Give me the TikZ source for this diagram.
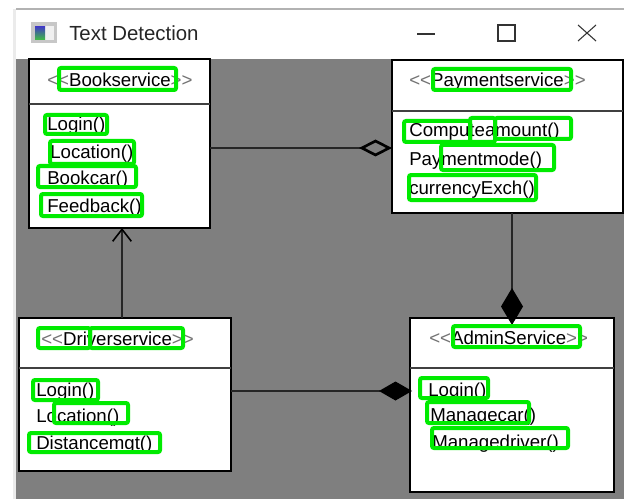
\documentclass[tikz,border=0pt]{standalone}
\usepackage{fontspec}
\setmainfont{Liberation Sans}
\usetikzlibrary{arrows.meta}
\definecolor{detgreen}{RGB}{0,235,0}
\definecolor{canvasgray}{RGB}{127,127,127}
\newcommand{\opn}{\textcolor{black!55}{{<}{<}}}
\newcommand{\cls}{\textcolor{black!55}{{>}{>}}}
\tikzset{
  classbox/.style={draw=black,fill=white,line width=1pt,anchor=north west,inner sep=0pt,outer sep=0pt},
  divider/.style={draw=black!75,line width=1.1pt},
  detbox/.style={draw=detgreen,line width=3pt,rounded corners=1.5pt},
  member/.style={anchor=base west,inner sep=0pt,font=\fontsize{14pt}{16pt}\selectfont},
  titlelabel/.style={anchor=base west,inner sep=0pt,font=\fontsize{14pt}{16pt}\selectfont},
  link/.style={draw=black!85,line width=1pt},
  winbutton/.style={draw=black!80,line width=0.8pt},
}
\begin{document}
\begin{tikzpicture}[x=0.75pt,y=0.75pt,yscale=-1,xscale=1]
\useasboundingbox (0,0) rectangle (624,499);

% window
\fill [white] (0,0) rectangle (624,499);
\fill [black!8] (13,9) rectangle (16,499);
\fill [black!30] (16,8) rectangle (624,10);
\fill [canvasgray] (16,59) rectangle (624,499);
\node [anchor=base west,inner sep=0pt,font=\fontsize{15.3pt}{17pt}\selectfont,text=black!85] (wintitle) at (69,41) {Text Detection};
\fill [black!22] (31,22) rectangle (57,43);
\fill [black!6] (35,26) rectangle (54,40);
\shade [top color=blue!50!gray,bottom color=green!50!gray] (35,27) rectangle (45,40);
\draw [winbutton] (417,34) -- (435,34);
\draw [winbutton] (498,25) rectangle (515,41);
\draw [winbutton] (578,25) -- (596,41) (596,25) -- (578,41);

% class boxes
\node [classbox,minimum width=181*0.75pt,minimum height=169*0.75pt] (bookservice) at (29,59) {};
\node [classbox,minimum width=231*0.75pt,minimum height=153*0.75pt] (paymentservice) at (392,60) {};
\node [classbox,minimum width=212*0.75pt,minimum height=153*0.75pt] (driverservice) at (19,318) {};
\node [classbox,minimum width=204*0.75pt,minimum height=174*0.75pt] (adminservice) at (410,318) {};
\draw [divider] (29,104) -- (210,104);
\draw [divider] (392,111) -- (623,111);
\draw [divider] (19,368) -- (231,368);
\draw [divider] (410,368) -- (614,368);

% connectors
\coordinate (bookpay) at (392,148);
\coordinate (driveradmin) at (412,391);
\coordinate (driverup) at (122,318);
\coordinate (payadmin) at (512,325);
\draw [link,-{Diamond[open,black,length=33*0.75pt,width=17*0.75pt,line width=2pt]}] (bookservice.east |- bookpay) -- (bookpay);
\draw [link,-{Straight Barb[black,length=9pt,width=14pt,line width=1.2pt]}] (driverup) -- (driverup |- bookservice.south);
\draw [link,-{Diamond[black,length=37*0.75pt,width=22*0.75pt]}] (paymentservice.south -| payadmin) -- (payadmin);
\draw [link,-{Diamond[black,length=33*0.75pt,width=19*0.75pt]}] (driverservice.east |- driveradmin) -- (driveradmin);

% Text Node
\node [titlelabel] (bookname) at (47,87) {\opn Bookservice\cls};
\node [member] (booklogin) at (47,131) {Login()};
\node [member] (booklocation) at (50,159) {Location()};
\node [member] (bookcar) at (47,184) {Bookcar()};
\node [member] (bookfeedback) at (47,212) {Feedback()};

\node [titlelabel] (payname) at (409,87) {\opn Paymentservice\cls};
\node [member] (paycompute) at (409,137) {Computeamount()};
\node [member] (paymode) at (409,166) {Paymentmode()};
\node [member] (paycurrency) at (409,194) {currencyExch()};

\node [titlelabel] (drivername) at (41,345) {\opn Driverservice\cls};
\node [member] (driverlogin) at (36,396) {Login()};
\node [member] (driverlocation) at (36,422) {Location()};
\node [member] (drivergmt) at (36,449) {Distancemgt()};

\node [titlelabel] (adminname) at (429,344) {\opn AdminService\cls};
\node [member] (adminlogin) at (428,396) {Login()};
\node [member] (admincar) at (430,421) {Managecar()};
\node [member] (admindriver) at (432,448) {Managedriver()};

% detection boxes
\draw [detbox] (59,68) rectangle (176,90);
\draw [detbox] (45,115) rectangle (107,134);
\draw [detbox] (50,141) rectangle (134,164);
\draw [detbox] (38,166) rectangle (136,187);
\draw [detbox] (41,194) rectangle (142,216);

\draw [detbox] (433,69) rectangle (571,90);
\draw [detbox] (404,121) rectangle (470,142);
\draw [detbox] (470,118) rectangle (495,142);
\draw [detbox] (495,118) rectangle (571,139);
\draw [detbox] (441,145) rectangle (554,170);
\draw [detbox] (409,175) rectangle (536,200);

\draw [detbox] (38,328) rectangle (90,348);
\draw [detbox] (90,328) rectangle (183,348);
\draw [detbox] (33,380) rectangle (98,400);
\draw [detbox] (54,403) rectangle (128,423);
\draw [detbox] (29,433) rectangle (160,452);

\draw [detbox] (453,326) rectangle (580,347);
\draw [detbox] (420,378) rectangle (488,398);
\draw [detbox] (427,402) rectangle (529,423);
\draw [detbox] (432,428) rectangle (568,448);

\end{tikzpicture}
\end{document}
